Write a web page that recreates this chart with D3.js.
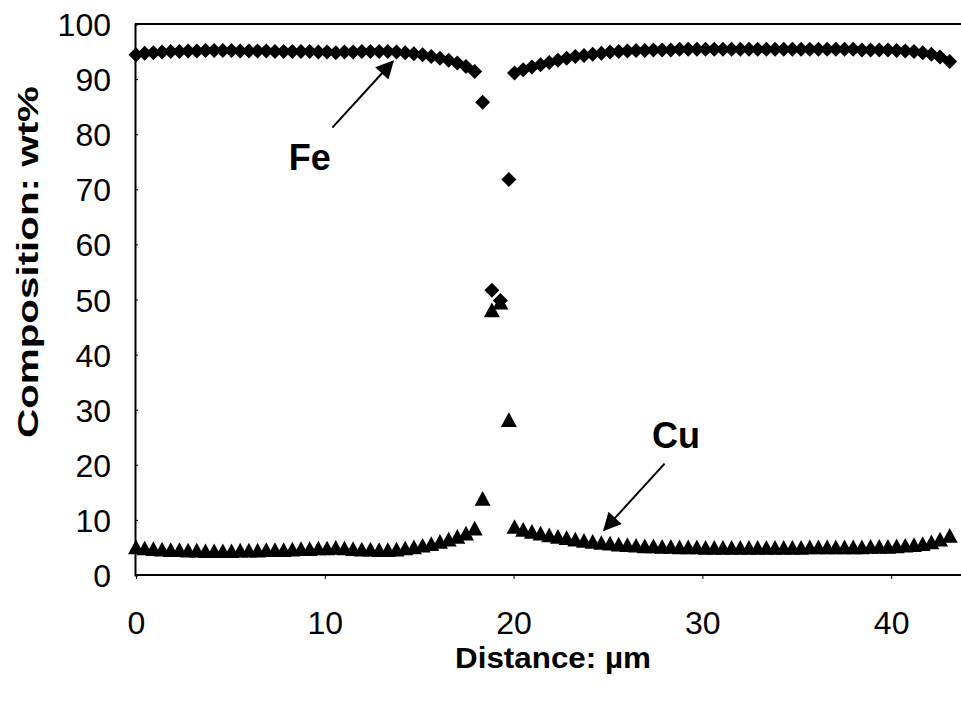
<!DOCTYPE html>
<html>
<head>
<meta charset="utf-8">
<script src="https://cdn.jsdelivr.net/npm/d3@7"></script>
<style>
  html, body { margin: 0; padding: 0; background: #fff; }
  svg { display: block; }
  text { font-family: "Liberation Sans", Arial, Helvetica, sans-serif; fill: #000; }
</style>
</head>
<body>
<svg id="chart" width="961" height="702"></svg>
<script>
// Line-scan composition profile across an Fe / Cu joint (EDS, wt%)
const distance = [
  0, 0.46, 0.92, 1.38, 1.84, 2.30, 2.76, 3.22, 3.68, 4.14,
  4.60, 5.06, 5.52, 5.98, 6.44, 6.90, 7.36, 7.82, 8.28, 8.74,
  9.20, 9.66, 10.12, 10.58, 11.04, 11.50, 11.96, 12.42, 12.88, 13.34,
  13.80, 14.26, 14.72, 15.18, 15.64, 16.10, 16.56, 17.02, 17.48, 17.94,
  18.36, 18.85, 19.30, 19.75,
  20.05, 20.51, 20.97, 21.43, 21.89, 22.35, 22.81, 23.27, 23.73, 24.19,
  24.65, 25.11, 25.57, 26.03, 26.49, 26.95, 27.41, 27.87, 28.33, 28.79,
  29.25, 29.71, 30.17, 30.63, 31.09, 31.55, 32.01, 32.47, 32.93, 33.39,
  33.85, 34.31, 34.77, 35.23, 35.69, 36.15, 36.61, 37.07, 37.53, 37.99,
  38.45, 38.91, 39.37, 39.83, 40.29, 40.75, 41.21, 41.67, 42.13, 42.59,
  43.10
];

const fe = [
  94.4, 94.7, 94.8, 94.9, 95.0, 95.0, 95.1, 95.1, 95.2, 95.2,
  95.2, 95.2, 95.1, 95.1, 95.1, 95.1, 95.0, 95.0, 95.0, 95.0,
  95.0, 94.9, 94.9, 94.8, 94.9, 94.9, 95.0, 95.0, 95.0, 95.0,
  94.9, 94.8, 94.6, 94.4, 94.1, 93.8, 93.4, 92.9, 92.3, 91.4,
  85.8, 51.7, 49.8, 71.8,
  91.1, 91.7, 92.2, 92.6, 93.0, 93.4, 93.8, 94.1, 94.3, 94.5,
  94.7, 94.9, 95.0, 95.1, 95.2, 95.2, 95.3, 95.3, 95.3, 95.4,
  95.4, 95.4, 95.4, 95.4, 95.4, 95.4, 95.4, 95.4, 95.4, 95.4,
  95.4, 95.4, 95.4, 95.4, 95.4, 95.4, 95.4, 95.4, 95.4, 95.4,
  95.3, 95.3, 95.3, 95.3, 95.2, 95.1, 95.0, 94.8, 94.5, 94.0,
  93.2
];

const cu = [
  5.1, 4.9, 4.8, 4.7, 4.6, 4.6, 4.5, 4.5, 4.4, 4.4,
  4.4, 4.4, 4.5, 4.5, 4.5, 4.6, 4.6, 4.6, 4.7, 4.8,
  4.8, 4.9, 4.9, 5.0, 4.9, 4.8, 4.7, 4.7, 4.6, 4.6,
  4.7, 4.9, 5.1, 5.4, 5.7, 6.1, 6.5, 7.0, 7.6, 8.5,
  13.9, 48.1, 49.5, 28.2,
  8.8, 8.3, 7.9, 7.6, 7.3, 7.0, 6.8, 6.5, 6.3, 6.1,
  5.9, 5.8, 5.6, 5.5, 5.4, 5.3, 5.3, 5.2, 5.2, 5.1,
  5.1, 5.1, 5.0, 5.0, 5.0, 5.0, 5.0, 5.0, 5.0, 5.0,
  5.0, 5.0, 5.0, 5.0, 5.1, 5.1, 5.1, 5.1, 5.1, 5.1,
  5.1, 5.2, 5.2, 5.2, 5.3, 5.4, 5.5, 5.7, 6.0, 6.5,
  7.2
];

const xTicks = [0, 10, 20, 30, 40];
const yTicks = [0, 10, 20, 30, 40, 50, 60, 70, 80, 90, 100];

// Callout labels: text, position in data units, arrow tail and tip in data units
const callouts = [
  { label: "Fe", at: [9.2, 73.5], tail: [10.4, 81.2], tip: [13.6, 93.2] },
  { label: "Cu", at: [28.6, 23.0], tail: [28.0, 20.2], tip: [24.8, 8.2] }
];

const svg = d3.select("#chart");
const W = 961, H = 702;

const x = d3.scaleLinear().domain([0, 43.7]).range([136, 961]);
const y = d3.scaleLinear().domain([0, 100]).range([575, 24]);

// Frame of the plot area (right side runs off the page)
const frame = svg.append("g").attr("stroke", "#000").attr("stroke-width", 2).attr("fill", "none");
frame.append("line").attr("x1", x(0) - 1).attr("x2", W).attr("y1", y(100)).attr("y2", y(100));
frame.append("line").attr("x1", x(0) - 1).attr("x2", W).attr("y1", y(0)).attr("y2", y(0));

// Axes
const yAxis = d3.axisLeft(y).tickValues(yTicks).tickSize(-3).tickPadding(24).tickFormat(d3.format("d"));
const gy = svg.append("g").attr("transform", `translate(${x(0) - 1},0)`).call(yAxis);
gy.select(".domain").attr("stroke", "#000").attr("stroke-width", 2);
gy.selectAll(".tick line").attr("stroke", "#000").attr("stroke-width", 1);
gy.selectAll(".tick text").attr("font-size", 32).attr("dy", "0.36em").attr("fill", "#000");

const xAxis = d3.axisBottom(x).tickValues(xTicks).tickSize(4).tickPadding(32).tickFormat(d3.format("d"));
const gx = svg.append("g").attr("transform", `translate(0,${y(0)})`).call(xAxis);
gx.select(".domain").remove();
gx.selectAll(".tick line").attr("stroke", "#000").attr("stroke-width", 1);
gx.selectAll(".tick text").attr("font-size", 32).attr("fill", "#000");

// Axis titles
svg.append("text")
  .attr("x", 553).attr("y", 668)
  .attr("text-anchor", "middle")
  .attr("font-size", 29).attr("font-weight", "bold")
  .attr("textLength", 196).attr("lengthAdjust", "spacingAndGlyphs")
  .text("Distance: \u00b5m");

svg.append("text")
  .attr("transform", "translate(38,262) rotate(-90)")
  .attr("text-anchor", "middle")
  .attr("font-size", 29).attr("font-weight", "bold")
  .attr("textLength", 352).attr("lengthAdjust", "spacingAndGlyphs")
  .text("Composition: wt%");

// Marker shapes: square diamond and upright triangle
const squareDiamond = {
  draw(ctx, size) {
    const r = Math.sqrt(size) / 2;
    ctx.moveTo(0, -r); ctx.lineTo(r, 0); ctx.lineTo(0, r); ctx.lineTo(-r, 0); ctx.closePath();
  }
};
const upTriangle = {
  draw(ctx, size) {
    const w = Math.sqrt(size) / 2;
    const h = w * 0.92;
    ctx.moveTo(0, -h); ctx.lineTo(w, h); ctx.lineTo(-w, h); ctx.closePath();
  }
};

const rows = distance.map((d, i) => ({ d, fe: fe[i], cu: cu[i] }));

svg.append("g").selectAll("path")
  .data(rows).join("path")
  .attr("transform", r => `translate(${x(r.d)},${y(r.cu)})`)
  .attr("d", d3.symbol().type(upTriangle).size(16 * 16))
  .attr("fill", "#000");

svg.append("g").selectAll("path")
  .data(rows).join("path")
  .attr("transform", r => `translate(${x(r.d)},${y(r.fe)})`)
  .attr("d", d3.symbol().type(squareDiamond).size(15 * 15))
  .attr("fill", "#000");

// Callouts with arrows
const defs = svg.append("defs");
defs.append("marker")
  .attr("id", "head")
  .attr("viewBox", "0 0 10 10")
  .attr("refX", 9).attr("refY", 5)
  .attr("markerUnits", "userSpaceOnUse")
  .attr("markerWidth", 22).attr("markerHeight", 18)
  .attr("orient", "auto")
  .append("path").attr("d", "M0,0 L10,5 L0,10 Z").attr("fill", "#000");

const cg = svg.append("g");
cg.selectAll("line")
  .data(callouts).join("line")
  .attr("x1", c => x(c.tail[0])).attr("y1", c => y(c.tail[1]))
  .attr("x2", c => x(c.tip[0])).attr("y2", c => y(c.tip[1]))
  .attr("stroke", "#000").attr("stroke-width", 2)
  .attr("marker-end", "url(#head)");
cg.selectAll("text")
  .data(callouts).join("text")
  .attr("x", c => x(c.at[0])).attr("y", c => y(c.at[1]))
  .attr("text-anchor", "middle")
  .attr("font-size", 36).attr("font-weight", "bold")
  .text(c => c.label);
</script>
</body>
</html>
